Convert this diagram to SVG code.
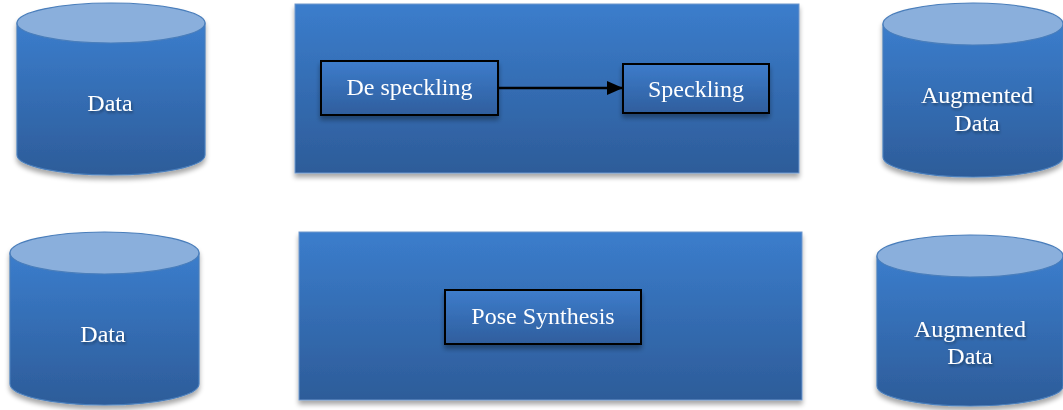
<svg xmlns="http://www.w3.org/2000/svg" width="1063" height="410" viewBox="0 0 1063 410">
<defs>
<linearGradient id="gBody" x1="0" y1="0" x2="0" y2="1">
<stop offset="0" stop-color="#3b7dcc"/>
<stop offset="1" stop-color="#2d5c99"/>
</linearGradient>
<linearGradient id="gInner" x1="0" y1="0" x2="0" y2="1">
<stop offset="0" stop-color="#3d7ccb"/>
<stop offset="1" stop-color="#2f5e9d"/>
</linearGradient>
<filter id="sh" x="-10%" y="-10%" width="120%" height="130%">
<feGaussianBlur in="SourceAlpha" stdDeviation="2.5"/>
<feOffset dx="0" dy="4" result="b"/>
<feComponentTransfer><feFuncA type="linear" slope="0.35"/></feComponentTransfer>
<feMerge><feMergeNode/><feMergeNode in="SourceGraphic"/></feMerge>
</filter>
<filter id="tsh" x="-10%" y="-30%" width="120%" height="160%">
<feGaussianBlur in="SourceAlpha" stdDeviation="1.5"/>
<feOffset dx="1" dy="2"/>
<feComponentTransfer><feFuncA type="linear" slope="0.4"/></feComponentTransfer>
<feMerge><feMergeNode/><feMergeNode in="SourceGraphic"/></feMerge>
</filter>
<marker id="arr" markerWidth="16" markerHeight="14" refX="16" refY="7" orient="auto" markerUnits="userSpaceOnUse">
<path d="M0,0 L16,7 L0,14 Z" fill="#000"/>
</marker>
</defs>
<style>
.body{fill:url(#gBody);stroke:#4a7ebb;stroke-width:1.2}
.top{fill:#8aafdc;stroke:#4a7ebb;stroke-width:1.2}
.panel{fill:url(#gBody);stroke:#6f97cc;stroke-width:1}
.inner{fill:url(#gInner);stroke:#000;stroke-width:2}
.t{font-family:"Liberation Serif","Times New Roman",serif;font-size:24px;fill:#fff;text-anchor:middle}
.conn{stroke:#000;stroke-width:2.5;fill:none}
</style>

<g id="data-top" filter="url(#sh)">
<path class="body" d="M17,23 L17,155 A94,20 0 0 0 205,155 L205,23 Z"/>
<ellipse class="top" cx="111" cy="23" rx="94" ry="20"/>
<text class="t" x="110" y="111" filter="url(#tsh)">Data</text>
</g>

<g id="panel-top" filter="url(#sh)">
<rect class="panel" x="295" y="4" width="504" height="169"/>
</g>

<g id="despeckling" filter="url(#sh)">
<rect class="inner" x="321" y="61" width="177" height="54"/>
<text class="t" x="409.5" y="95">De speckling</text>
</g>

<g id="speckling" filter="url(#sh)">
<rect class="inner" x="623" y="64" width="146" height="49"/>
<text class="t" x="696" y="97">Speckling</text>
</g>

<g id="augmented-top" filter="url(#sh)">
<path class="body" d="M883,24 L883,157 A90,20 0 0 0 1063,157 L1063,24 Z"/>
<ellipse class="top" cx="973" cy="24" rx="90" ry="21"/>
<text class="t" x="977" y="103" filter="url(#tsh)">Augmented</text>
<text class="t" x="977" y="131" filter="url(#tsh)">Data</text>
</g>

<g id="data-bottom" filter="url(#sh)">
<path class="body" d="M10,253 L10,384 A94.5,21 0 0 0 199,384 L199,253 Z"/>
<ellipse class="top" cx="104.5" cy="253" rx="94.5" ry="21"/>
<text class="t" x="103" y="342" filter="url(#tsh)">Data</text>
</g>

<g id="panel-bottom" filter="url(#sh)">
<rect class="panel" x="299" y="232" width="503" height="168"/>
</g>

<g id="pose-synthesis" filter="url(#sh)">
<rect class="inner" x="445" y="290" width="196" height="54"/>
<text class="t" x="543" y="324">Pose Synthesis</text>
</g>

<g id="augmented-bottom" filter="url(#sh)">
<path class="body" d="M877,256 L877,386 A93,20 0 0 0 1063,386 L1063,256 Z"/>
<ellipse class="top" cx="970" cy="256" rx="93" ry="21"/>
<text class="t" x="970" y="337" filter="url(#tsh)">Augmented</text>
<text class="t" x="970" y="364" filter="url(#tsh)">Data</text>
</g>

<g id="connectors">
<line class="conn" x1="498" y1="88" x2="623" y2="88" marker-end="url(#arr)"/>
</g>
</svg>
